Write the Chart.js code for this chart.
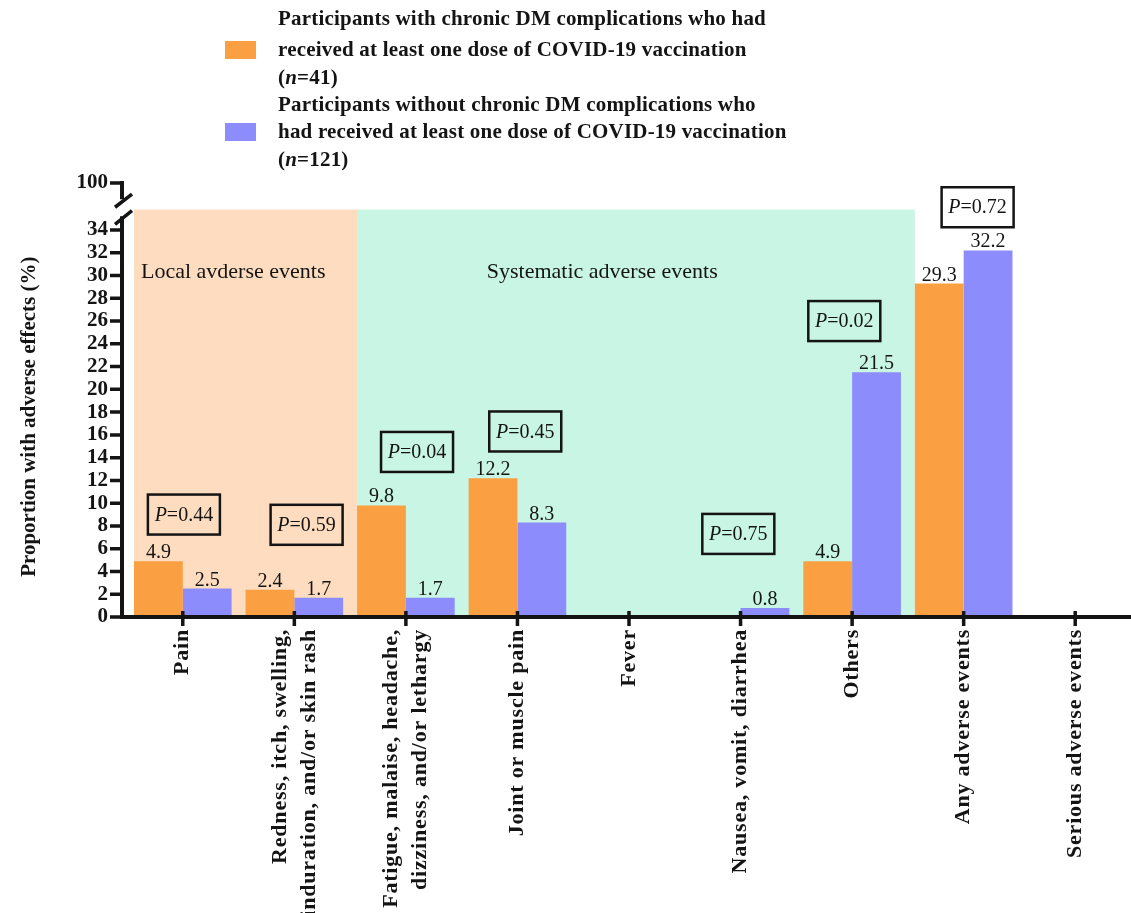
<!DOCTYPE html>
<html>
<head>
<meta charset="utf-8">
<script src="https://cdn.jsdelivr.net/npm/chart.js@4"></script>
<style>
  html, body { margin: 0; padding: 0; background: #fff; overflow: hidden; }
  #wrap { position: relative; width: 1131px; height: 913px; }
</style>
</head>
<body>
<div id="wrap"><canvas id="chart1"></canvas></div>
<script>
// categories (x axis)
var categories = [
    'Pain',
    ['Redness, itch, swelling,', 'induration, and/or skin rash'],
    ['Fatigue, malaise, headache,', 'dizziness, and/or lethargy'],
    'Joint or muscle pain',
    'Fever',
    'Nausea, vomit, diarrhea',
    'Others',
    'Any adverse events',
    'Serious adverse events'
];
// % of participants with adverse effects
var withComplications    = [4.9, 2.4, 9.8, 12.2, 0, 0, 4.9, 29.3, 0];
var withoutComplications = [2.5, 1.7, 1.7, 8.3, 0, 0.8, 21.5, 32.2, 0];
var pValues = ['0.44', '0.59', '0.04', '0.45', null, '0.75', '0.02', '0.72', null];

// broken y axis: 0..34 then a break, top tick is "100"
var yTickValues = [0, 2, 4, 6, 8, 10, 12, 14, 16, 18, 20, 22, 24, 26, 28, 30, 32, 34, 38.13];
var yTickLabels = ['0', '2', '4', '6', '8', '10', '12', '14', '16', '18', '20', '22', '24', '26', '28', '30', '32', '34', '100'];

var legendLabels = [
    ['Participants with chronic DM complications who had', 'received at least one dose of COVID-19 vaccination', '(n=41)'],
    ['Participants without chronic DM complications who', 'had received at least one dose of COVID-19 vaccination', '(n=121)']
];

var ORANGE = '#fba042';
var BLUE = '#8c8cfd';
var SERIF = '"Liberation Serif", "Times New Roman", serif';
var INK = '#141414';
var CAT_PCT = 0.875;

// where the P boxes sit: category offset and height in axis units
var pBoxPlace = [
    {dx: 0.01, y: 9.0}, {dx: 0.11, y: 8.1}, {dx: 0.10, y: 14.5}, {dx: 0.07, y: 16.3}, null,
    {dx: -0.02, y: 7.3}, {dx: -0.07, y: 26.0}, {dx: 0.125, y: 36.0}, null
];

function font(size, weight, style) {
    return (style || '') + ' ' + (weight || '') + ' ' + size + 'px ' + SERIF;
}

// draws "(n=41)" style text with italic n, or "P=0.44" with italic P
function drawMixed(ctx, parts, x, y, size, weight, align) {
    var total = 0;
    parts.forEach(function(p) {
        ctx.font = font(size, weight, p.italic ? 'italic' : '');
        total += ctx.measureText(p.t).width;
    });
    var cx = align === 'center' ? x - total / 2 : x;
    ctx.textAlign = 'left';
    parts.forEach(function(p) {
        ctx.font = font(size, weight, p.italic ? 'italic' : '');
        ctx.fillText(p.t, cx, y);
        cx += ctx.measureText(p.t).width;
    });
}

var decorPlugin = {
    id: 'decor',
    beforeDatasetsDraw: function(chart) {
        var ctx = chart.ctx, xs = chart.scales.x, ys = chart.scales.y;
        var half = (xs.getPixelForValue(1) - xs.getPixelForValue(0)) * CAT_PCT / 2;
        var a = xs.getPixelForValue(0) - half;
        var b = xs.getPixelForValue(2) - half;
        var c = xs.getPixelForValue(7) - half;
        var top = ys.getPixelForValue(35.8), bottom = ys.getPixelForValue(0);
        ctx.save();
        ctx.fillStyle = '#fddcbf';
        ctx.fillRect(a, top, b - a, bottom - top);
        ctx.fillStyle = '#c8f5e4';
        ctx.fillRect(b, top, c - b, bottom - top);

        ctx.fillStyle = INK;
        ctx.font = font(22);
        ctx.textBaseline = 'middle';
        ctx.textAlign = 'left';
        ctx.fillText('Local avderse events', a + 7, ys.getPixelForValue(30.3));
        ctx.textAlign = 'center';
        ctx.fillText('Systematic adverse events', xs.getPixelForValue(3.76), ys.getPixelForValue(30.3));
        ctx.restore();
    },
    afterDatasetsDraw: function(chart) {
        var ctx = chart.ctx, xs = chart.scales.x, ys = chart.scales.y;
        ctx.save();

        // value labels on bars
        ctx.fillStyle = INK;
        ctx.font = font(20);
        ctx.textAlign = 'center';
        ctx.textBaseline = 'alphabetic';
        chart.data.datasets.forEach(function(ds, di) {
            chart.getDatasetMeta(di).data.forEach(function(bar, i) {
                if (ds.data[i] > 0) ctx.fillText(ds.data[i].toFixed(1), bar.x, bar.y - 3);
            });
        });

        // P value boxes
        pValues.forEach(function(p, i) {
            if (!p) return;
            var cx = xs.getPixelForValue(i + pBoxPlace[i].dx);
            var cy = ys.getPixelForValue(pBoxPlace[i].y);
            ctx.lineWidth = 2.5;
            ctx.strokeStyle = INK;
            ctx.strokeRect(cx - 36, cy - 20, 72, 40);
            ctx.fillStyle = INK;
            ctx.textBaseline = 'middle';
            drawMixed(ctx, [{t: 'P', italic: true}, {t: '=' + p}], cx, cy + 1, 20, '', 'center');
        });

        // axes
        var ax = chart.chartArea.left - 5;
        var y0 = ys.getPixelForValue(0);
        var yTop = ys.getPixelForValue(38.13);
        ctx.strokeStyle = INK;
        ctx.lineWidth = 4;
        ctx.lineCap = 'butt';
        ctx.beginPath();
        ctx.moveTo(ax, y0);
        ctx.lineTo(chart.width, y0);
        ctx.moveTo(ax, y0 + 2);
        ctx.lineTo(ax, ys.getPixelForValue(35.2));
        ctx.moveTo(ax, yTop - 2);
        ctx.lineTo(ax, ys.getPixelForValue(36.7));
        ctx.stroke();
        // break marks
        ctx.lineWidth = 3.5;
        ctx.beginPath();
        ctx.moveTo(ax - 7, ys.getPixelForValue(36.0));
        ctx.lineTo(ax + 10, ys.getPixelForValue(37.15));
        ctx.moveTo(ax - 7, ys.getPixelForValue(34.5));
        ctx.lineTo(ax + 10, ys.getPixelForValue(35.7));
        ctx.stroke();

        // y ticks
        ctx.lineWidth = 3.5;
        ctx.beginPath();
        yTickValues.forEach(function(v) {
            var py = ys.getPixelForValue(v);
            ctx.moveTo(ax - 12, py);
            ctx.lineTo(ax + (v > 35 ? 2 : 0), py);
        });
        // x ticks
        categories.forEach(function(c, i) {
            var px = xs.getPixelForValue(i);
            ctx.moveTo(px, y0 - 6);
            ctx.lineTo(px, y0 + 9);
        });
        ctx.stroke();

        // x labels, rotated
        ctx.fillStyle = INK;
        ctx.font = font(22, 'bold');
        ctx.letterSpacing = '0.8px';
        ctx.textAlign = 'right';
        ctx.textBaseline = 'middle';
        categories.forEach(function(c, i) {
            var lines = Array.isArray(c) ? c : [c];
            var px = xs.getPixelForValue(i);
            lines.forEach(function(line, k) {
                ctx.save();
                ctx.translate(px + (k - (lines.length - 1) / 2) * 29, y0 + 12);
                ctx.rotate(-Math.PI / 2);
                ctx.fillText(line, 0, 0);
                ctx.restore();
            });
        });
        ctx.letterSpacing = '0px';

        // y title
        ctx.save();
        ctx.translate(30, ys.getPixelForValue(17.6));
        ctx.rotate(-Math.PI / 2);
        ctx.textAlign = 'center';
        ctx.font = font(21, 'bold');
        ctx.fillText('Proportion with adverse effects (%)', 0, 0);
        ctx.restore();

        // legend
        var swatches = [ORANGE, BLUE];
        var lineY = [[20, 51, 79], [106, 133, 161]];
        ctx.letterSpacing = '0.2px';
        legendLabels.forEach(function(lines, li) {
            ctx.fillStyle = swatches[li];
            ctx.fillRect(225, lineY[li][1] - 10, 31, 18);
            ctx.fillStyle = INK;
            ctx.textBaseline = 'middle';
            lines.forEach(function(line, k) {
                var m = line.match(/^\((n)(=.*)$/);
                if (m) {
                    drawMixed(ctx, [{t: '('}, {t: 'n', italic: true}, {t: m[2]}], 278, lineY[li][k], 21, 'bold', 'left');
                } else {
                    ctx.font = font(21, 'bold');
                    ctx.textAlign = 'left';
                    ctx.fillText(line, 278, lineY[li][k]);
                }
            });
        });
        ctx.letterSpacing = '0px';
        ctx.restore();
    }
};

var chartData = {
    labels: categories,
    datasets: [{
        label: legendLabels[0].join(' '),
        data: withComplications,
        backgroundColor: ORANGE,
        borderWidth: 0,
        barPercentage: 1,
        categoryPercentage: CAT_PCT
    }, {
        label: legendLabels[1].join(' '),
        data: withoutComplications,
        backgroundColor: BLUE,
        borderWidth: 0,
        barPercentage: 1,
        categoryPercentage: CAT_PCT
    }]
};

var ctx = document.getElementById('chart1').getContext('2d');
var myChart = new Chart(ctx, {
    type: 'bar',
    data: chartData,
    plugins: [decorPlugin],
    options: {
        responsive: true,
        maintainAspectRatio: false,
        animation: false,
        layout: { padding: { top: 183, left: 0, right: 0, bottom: 0 } },
        plugins: {
            legend: { display: false },
            tooltip: { enabled: false }
        },
        scales: {
            x: {
                offset: true,
                grid: { display: false },
                border: { display: false },
                ticks: { display: false },
                afterFit: function(s) { s.height = 296; }
            },
            y: {
                min: 0,
                max: 38.13,
                grid: { display: false },
                border: { display: false },
                afterBuildTicks: function(s) {
                    s.ticks = yTickValues.map(function(v) { return { value: v }; });
                },
                ticks: {
                    autoSkip: false,
                    padding: 11,
                    color: INK,
                    font: { family: SERIF, size: 21, weight: 'bold' },
                    callback: function(v, i) { return yTickLabels[i]; }
                },
                afterFit: function(s) { s.width = 127; }
            }
        }
    }
});
</script>
</body>
</html>
